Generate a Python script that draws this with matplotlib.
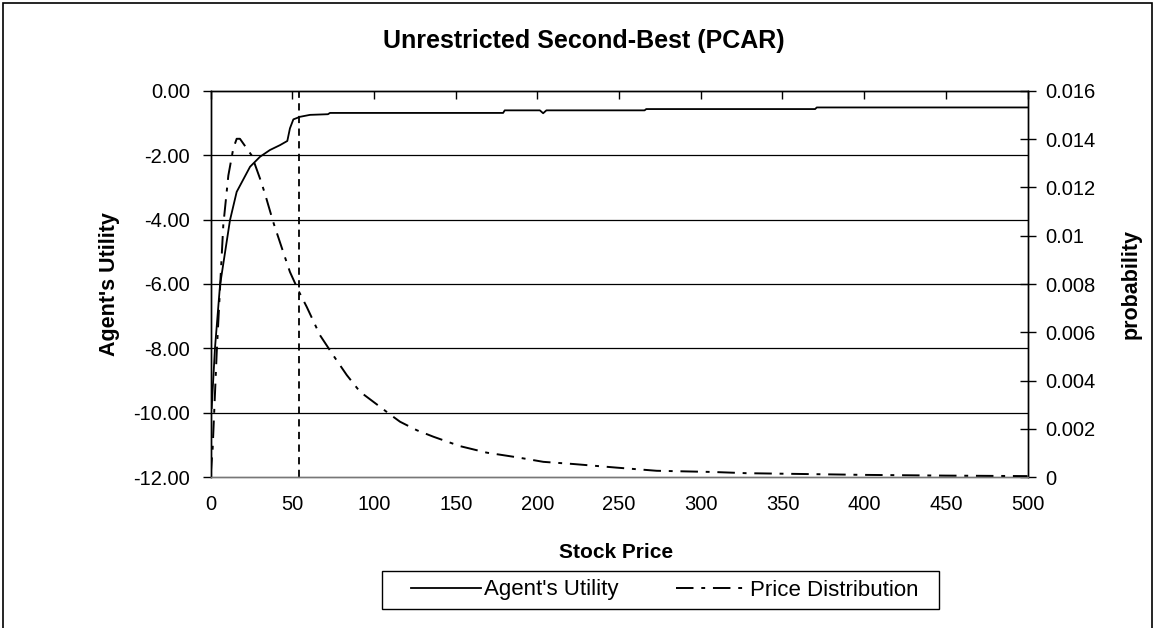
import matplotlib
matplotlib.use("Agg")
import matplotlib.pyplot as plt
from matplotlib.patches import Rectangle

plt.rcParams['font.family'] = ['Liberation Sans', 'DejaVu Sans']

# Agent's utility (left axis)
util_x = [0.6, 2.6, 5.7, 11.8, 15.9, 24.1, 30.2, 36.3, 42.4, 46.9, 48.5, 50.6, 54.7, 60.8,
          71.8, 73.0, 179.0, 180.0, 201.5, 203.5, 205.5, 265.6, 266.6, 370.0, 371.0, 500.0]
util_y = [-9.85, -8.0, -6.04, -4.02, -3.14, -2.36, -2.05, -1.84, -1.69, -1.56, -1.17, -0.89,
          -0.81, -0.75, -0.73, -0.69, -0.69, -0.61, -0.61, -0.70, -0.61, -0.61, -0.57, -0.57,
          -0.52, -0.52]

# Price distribution (right axis)
dist_x = [0.0, 1.2, 3.7, 7.7, 10.8, 13.8, 15.9, 17.9, 25.1, 30.2, 33.2, 38.3, 44.4, 48.5,
          53.6, 58.8, 66.9, 75.0, 83.3, 91.4, 103.6, 109.8, 115.9, 126.1, 136.3, 152.6,
          169.0, 187.3, 203.6, 222.0, 248.5, 273.0, 307.5, 328.0, 400.0, 450.0, 500.0]
dist_y = [0.0001, 0.00121, 0.00519, 0.01043, 0.01249, 0.0136, 0.01401, 0.01401, 0.01332,
          0.01236, 0.01174, 0.01056, 0.00932, 0.0085, 0.00774, 0.00705, 0.00588, 0.00505,
          0.00423, 0.00354, 0.00292, 0.0026, 0.0023, 0.00195, 0.00168, 0.00129, 0.00102,
          0.00083, 0.00064, 0.00055, 0.0004, 0.00027, 0.00022, 0.00017, 0.0001, 0.00007,
          0.00005]

expected_price = 54

x_ticks = [0, 50, 100, 150, 200, 250, 300, 350, 400, 450, 500]
left_ticks = [0, -2, -4, -6, -8, -10, -12]
left_labels = ["0.00", "-2.00", "-4.00", "-6.00", "-8.00", "-10.00", "-12.00"]
right_ticks = [0, 0.002, 0.004, 0.006, 0.008, 0.01, 0.012, 0.014, 0.016]
right_labels = ["0", "0.002", "0.004", "0.006", "0.008", "0.01", "0.012", "0.014", "0.016"]

W, H = 1156, 628
fig = plt.figure(figsize=(W / 100, H / 100), dpi=100)
fig.patch.set_facecolor("white")

ax = fig.add_axes([210.7 / W, 1 - 477.3 / H, (1027.5 - 210.7) / W, (477.3 - 90.7) / H])
ax2 = ax.twinx()

# gridlines
for v in [-2, -4, -6, -8, -10]:
    ax.axhline(v, color="black", lw=0.9, zorder=1)

l1, = ax.plot(util_x, util_y, color="black", lw=1.3, label="Agent's Utility", zorder=3)
l2, = ax2.plot(dist_x, dist_y, color="black", lw=1.4, linestyle=(0, (9, 4, 2, 4)),
               label="Price Distribution", zorder=3)
ax.axvline(expected_price, color="black", lw=1.3, linestyle=(0, (4, 3)), zorder=2)

ax.set_xlim(0, 500)
ax.set_ylim(-12, 0)
ax2.set_ylim(0, 0.016)

TF = 14.5
ax.set_xticks(x_ticks)
ax.set_xticklabels([str(t) for t in x_ticks], fontsize=TF)
ax.set_yticks(left_ticks)
ax.set_yticklabels(left_labels, fontsize=TF)
ax2.set_yticks(right_ticks)
ax2.set_yticklabels(right_labels, fontsize=TF)

ax.tick_params(axis="x", bottom=False, top=True, direction="in", length=6, width=1,
               labelbottom=True, pad=13)
ax.tick_params(axis="y", direction="out", length=6, width=1, pad=9)
ax2.tick_params(axis="y", direction="inout", length=11, width=1, pad=7)

for a in (ax, ax2):
    for s in a.spines.values():
        s.set_linewidth(1.0)
    a.spines["bottom"].set_color("#777777")
    a.spines["top"].set_color("black")
    a.spines["left"].set_color("black")
    a.spines["right"].set_color("black")
    a.patch.set_visible(False)

fig.text(584 / W, 1 - 41 / H, "Unrestricted Second-Best (PCAR)", ha="center", va="center",
         fontsize=18, fontweight="bold")
fig.text(616 / W, 1 - 553 / H, "Stock Price", ha="center", va="center",
         fontsize=15, fontweight="bold")
fig.text(109 / W, 1 - 284 / H, "Agent's Utility", ha="center", va="center",
         fontsize=15.5, fontweight="bold", rotation=90)
fig.text(1131 / W, 1 - 284 / H, "probability", ha="center", va="center",
         fontsize=15.5, fontweight="bold", rotation=90)

leg = fig.legend([l1, l2], ["Agent's Utility", "Price Distribution"], loc="center",
                 bbox_to_anchor=(664.5 / W, 1 - 590 / H), ncol=2, fontsize=16,
                 frameon=False, handlelength=3.15,
                 handletextpad=0.15, columnspacing=2.6, borderpad=0.25,
                 borderaxespad=0)

# legend frame
fig.patches.append(Rectangle((382 / W, 1 - 609 / H), (939 - 382) / W, (609 - 571) / H,
                             transform=fig.transFigure, fill=False, edgecolor="black",
                             lw=1.0))

# outer chart border
fig.patches.append(Rectangle((3 / W, -0.02), (1152 - 3) / W, 0.02 + 1 - 3 / H,
                             transform=fig.transFigure, fill=False, edgecolor="black",
                             lw=1.2))

fig.savefig("out.png", dpi=100, facecolor="white")
